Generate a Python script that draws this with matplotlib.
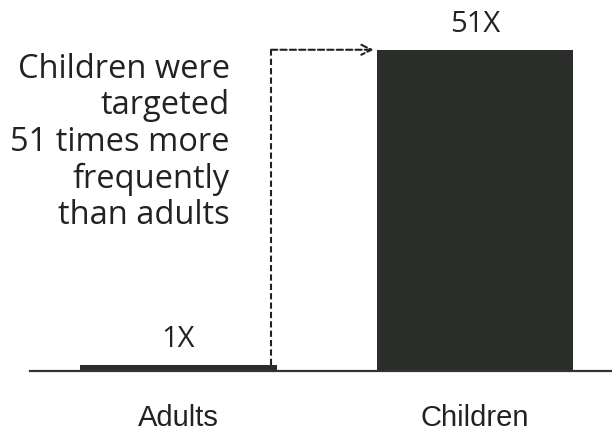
import numpy as np
import matplotlib.pyplot as plt

categories = ['Adults', 'Children']
values = [1, 51]
value_labels = ['1X', '51X']
note = 'Children were\ntargeted\n51 times more\nfrequently\nthan adults'

bar_color = '#2b2d2b'
text_color = '#222222'
width = 0.664

fig = plt.figure(figsize=[6.12, 4.33], dpi=100)
ax = fig.add_axes([30/612, 62/433, 582/612, 371/433])

x = np.arange(len(categories))
bars = ax.bar(x, values, width=width, color=bar_color)

ax.set_xlim(-0.501, 1.462)
ax.set_ylim(0, 58.9)

for s in ['top', 'right', 'left']:
    ax.spines[s].set_visible(False)
ax.spines['bottom'].set_linewidth(1.6)
ax.spines['bottom'].set_color('#333333')
ax.set_yticks([])
ax.set_xticks(x)
ax.set_xticklabels(categories, fontsize=21, family='Liberation Sans', color=text_color)
ax.tick_params(axis='x', length=0, pad=23.5)

ax.bar_label(bars, labels=value_labels, padding=8, fontsize=21,
             family='Open Sans', color=text_color)

# dashed arrow from adults bar up and over to children bar
xd = x[0] + width/2 - 0.02
ax.plot([xd, xd], [values[0], values[1]], color='#222222', lw=1.5,
        dashes=(3, 1.5), solid_capstyle='butt')
ax.annotate('', xy=(x[1] - width/2 - 0.01, values[1]), xytext=(xd, values[1]),
            arrowprops=dict(arrowstyle='->', color='#222222', lw=1.5,
                            linestyle=(0, (3, 1.5)), shrinkA=0, shrinkB=0,
                            mutation_scale=18))

fig.text(230/612, 1 - 53/433, note, ha='right', va='top', fontsize=23.5,
         family='Open Sans', color=text_color, linespacing=1.14)

plt.savefig('out.png', dpi=100)
